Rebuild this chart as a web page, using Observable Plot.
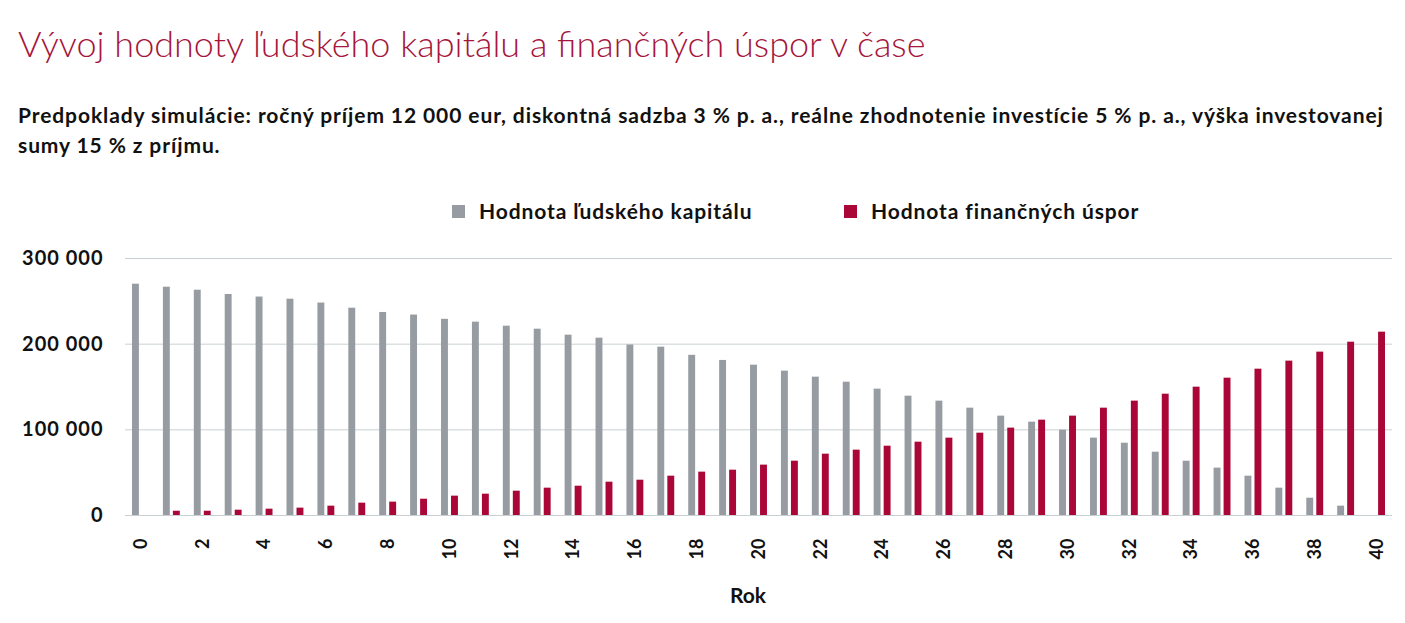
<!DOCTYPE html>
<html>
<head>
<meta charset="utf-8">
<script src="https://cdn.jsdelivr.net/npm/d3@7"></script>
<script src="https://cdn.jsdelivr.net/npm/@observablehq/plot@0.6"></script>
<style>
  body { margin: 0; background: #fff; font-family: Lato, "Open Sans", sans-serif; width: 1405px; height: 623px; position: relative; overflow: hidden; }
  #title { position: absolute; left: 18px; top: 25px; font-size: 36px; font-weight: 300; color: #a6163c; line-height: 1; white-space: nowrap; }
  #sub { position: absolute; left: 18px; top: 100px; font-size: 21px; letter-spacing: 0.9px; font-weight: 700; line-height: 30px; color: #111; white-space: nowrap; }
  .lg { position: absolute; top: 199px; display: flex; align-items: center; font-size: 21px; letter-spacing: 0.9px; font-weight: 700; color: #111; white-space: nowrap; line-height: 24px; }
  .sw { width: 13px; height: 13px; margin-right: 14px; display: inline-block; }
  #chart { position: absolute; left: 0; top: 240px; }
</style>
</head>
<body>
<div id="title">Vývoj hodnoty ľudského kapitálu a finančných úspor v čase</div>
<div id="sub">Predpoklady simulácie: ročný príjem 12 000 eur, diskontná sadzba 3 % p. a., reálne zhodnotenie investície 5 % p. a., výška investovanej<br>sumy 15 % z príjmu.</div>
<div id="lg1" class="lg" style="left:452px"></div>
<div id="lg2" class="lg" style="left:844px"></div>
<div id="chart"></div>
<script>
const years = d3.range(0, 41);
const seriesNames = ["Hodnota ľudského kapitálu", "Hodnota finančných úspor"];
const seriesColors = ["#969ca1", "#aa0638"];
const humanCapital = [270000,266500,263000,258000,255000,252500,248000,242000,237000,234000,229000,225700,221000,217500,210500,207000,199000,196500,187000,181000,175500,168500,161500,155600,147500,139300,133500,125300,116000,109000,99600,90300,84400,73900,63400,55300,45900,31900,20200,10900,0];
const savings = [0,5000,5000,6200,7400,8600,10900,14400,15600,19000,22600,24900,28400,31900,34200,38900,41200,45900,50600,52900,58800,63400,71600,76300,80900,85600,90300,96100,102000,111300,116000,125300,133500,141600,149800,160300,170800,180200,190700,202300,214000];
const yTicks = [0, 100000, 200000, 300000];
const xTicks = years.filter(y => y % 2 === 0);
const xLabel = "Rok";

["lg1", "lg2"].forEach((id, i) => {
  const el = document.getElementById(id);
  el.innerHTML = `<span class="sw" style="background:${seriesColors[i]}"></span><span>${seriesNames[i]}</span>`;
});

const humanRows = years.map((y, i) => ({year: y, value: humanCapital[i]}));
const savingRows = years.map((y, i) => ({year: y, value: savings[i]}));
const fmt = d => d3.format(",")(d).replace(/,/g, " ");

const plot = Plot.plot({
  width: 1405,
  height: 383,
  marginLeft: 125,
  marginRight: 13,
  marginTop: 18,
  marginBottom: 108,
  style: {fontFamily: "Lato, 'Open Sans', sans-serif", color: "#111", background: "#fff"},
  x: {type: "band", domain: years, padding: 0, label: null},
  y: {domain: [0, 300000], label: null},
  marks: [
    Plot.gridY(yTicks, {stroke: "#c9d0d4", strokeOpacity: 1, strokeWidth: 1}),
    Plot.barY(humanRows, {x: "year", y: "value", fill: seriesColors[0], insetLeft: 7, insetRight: 17}),
    Plot.barY(savingRows, {x: "year", y: "value", fill: seriesColors[1], insetLeft: 17, insetRight: 7}),
    Plot.axisY(yTicks, {tickSize: 0, tickPadding: 22, tickFormat: fmt, fontSize: 20, fontWeight: "bold", label: null}),
    Plot.axisX(xTicks, {tickSize: 0, tickPadding: 23, tickRotate: -90, fontSize: 18, fontWeight: "bold", label: null}),
    Plot.text([xLabel], {frameAnchor: "bottom", dx: -11, dy: 87, fontSize: 21, fontWeight: "bold", fill: "#111"})
  ]
});
d3.select(plot).selectAll("g[aria-label='y-axis tick label'] text").style("letter-spacing", "1px");
document.getElementById("chart").appendChild(plot);
</script>
</body>
</html>
